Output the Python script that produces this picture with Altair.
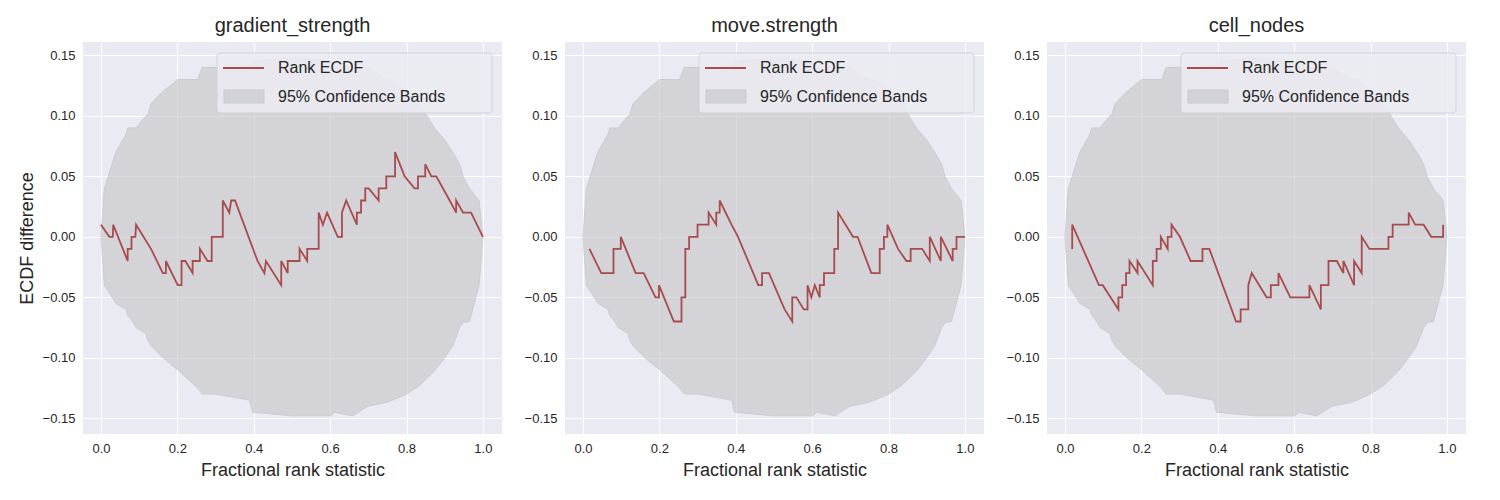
import altair as alt
import pandas as pd

titles = ["gradient_strength", "move.strength", "cell_nodes"]

# Rank ECDF difference traces (x, y)
p1_x = [0, .022, .031, .032, .07, .07, .08, .08, .09, .092, .131, .162, .170, .170, .201, .211, .211, .221, .24, .24, .259, .259, .279, .290, .290, .319, .319, .336, .341, .351,
        .41, .428, .432, .472, .472, .489, .489, .52, .52, .54, .54, .57, .57, .581, .592, .62, .631, .631, .642, .67, .67, .681, .681, .692, .692, .701, .727, .727, .747, .747, .77, .77,
        .795, .821, .83, .83, .849, .849, .865, .878, .913, .93, .93, .948, .969, 1.0]
p1_y = [.01, 0, 0, .01, -.02, -.01, -.01, 0, 0, .01, -.01, -.03, -.03, -.02, -.04, -.04, -.02, -.02, -.03, -.02, -.02, -.01, -.02, -.02, 0, 0, .03, .02, .03, .03,
        -.02, -.03, -.02, -.04, -.02, -.03, -.02, -.02, -.01, -.02, -.01, -.01, .02, .01, .02, 0, 0, .02, .03, .01, .02, .02, .03, .03, .04, .04, .03, .04, .04, .05, .05, .07,
        .05, .04, .04, .05, .05, .06, .05, .05, .03, .02, .03, .02, .02, 0]
p2_x = [.017, .048, .08, .08, .099, .099, .138, .159, .19, .199, .199, .238, .258, .258, .268, .268, .278, .278, .3, .3, .329, .329, .349, .349, .358, .358, .389, .406,
        .459, .469, .469, .487, .528, .548, .548, .559, .578, .588, .588, .598, .607, .62, .62, .631, .631, .658, .658, .668, .668, .707, .719, .755, .777, .777, .788, .788,
        .797, .797, .825, .847, .858, .858, .888, .908, .908, .937, .937, .968, .968, .978, .978, 1.0]
p2_y = [-.01, -.03, -.03, -.01, -.01, 0, -.03, -.03, -.05, -.05, -.04, -.07, -.07, -.05, -.05, -.01, -.01, 0, 0, .01, .01, .02, .01, .02, .02, .03, .01, 0,
        -.04, -.04, -.03, -.03, -.06, -.07, -.05, -.05, -.06, -.06, -.04, -.05, -.04, -.05, -.04, -.04, -.03, -.03, -.01, -.01, .02, 0, 0, -.03, -.03, -.01, -.01, 0,
        0, .01, -.01, -.02, -.02, -.01, -.01, -.02, 0, -.02, 0, -.02, -.01, -.01, 0, 0]
p3_x = [.019, .019, .089, .099, .14, .14, .15, .15, .16, .16, .169, .169, .19, .19, .23, .23, .24, .24, .251, .251, .269, .269, .279, .279, .301, .329, .36, .36, .378,
        .448, .46, .46, .48, .48, .489, .528, .539, .539, .559, .559, .59, .64, .64, .67, .67, .69, .69, .712, .729, .729, .757, .757, .777, .777, .797, .847, .847,
        .858, .858, .9, .9, .917, .939, .959, .99, .99]
p3_y = [-.01, .01, -.04, -.04, -.06, -.05, -.05, -.04, -.04, -.03, -.03, -.02, -.03, -.02, -.04, -.02, -.02, -.01, -.01, 0, -.01, 0, 0, .01, 0, -.02, -.02, -.01, -.01,
        -.07, -.07, -.06, -.06, -.04, -.03, -.05, -.05, -.04, -.04, -.03, -.05, -.05, -.04, -.06, -.04, -.04, -.02, -.02, -.03, -.02, -.04, -.02, -.03, 0, -.01, -.01, 0,
        0, .01, .01, .02, .01, .01, 0, 0, .01]

# 95% confidence band (shared by all panels)
band_x = [0, .009, .039, .066, .07, .083, .092, .118, .122, .131, .162, .201, .236, .253, .265, .301, .389, .397, .5, .603, .611, .659, .699, .747, .764, .8, .834, .873, .9, .921, .939, .948, .965, .99, 1]
band_hi = [0, .04, .07, .085, .09, .09, .09, .10, .10, .11, .12, .13, .13, .13, .14, .14, .14, .145, .148, .145, .14, .14, .14, .13, .13, .12, .11, .09, .08, .07, .06, .05, .04, .03, 0]
band_lo = [0, -.04, -.055, -.06, -.065, -.07, -.075, -.08, -.085, -.09, -.10, -.11, -.12, -.125, -.13, -.13, -.135, -.145, -.148, -.148, -.145, -.148, -.14, -.137, -.135, -.13, -.123, -.111, -.10, -.09, -.075, -.071, -.07, -.04, 0]

traces = [(p1_x, p1_y), (p2_x, p2_y), (p3_x, p3_y)]
LINE = "#a84b4d"
W, H = 419, 392
xs = alt.Scale(domain=[-0.047, 1.05], nice=False, zero=False)
ys = alt.Scale(domain=[-0.163, 0.161], nice=False, zero=False)
band_df = pd.DataFrame({"x": band_x, "lo": band_lo, "hi": band_hi})


def panel(i):
    tx, ty = traces[i]
    df = pd.DataFrame({"x": tx, "y": ty, "o": range(len(tx))})
    yaxis = alt.Axis(values=[-0.15, -0.1, -0.05, 0, 0.05, 0.1, 0.15], format=".2f",
                     title="ECDF difference" if i == 0 else None)
    xaxis = alt.Axis(values=[0, 0.2, 0.4, 0.6, 0.8, 1.0], format=".1f", title="Fractional rank statistic")
    band = alt.Chart(band_df).mark_area(color="#c4c4c8", opacity=0.6, stroke="#b8b8bc", strokeWidth=1).encode(
        x=alt.X("x:Q", scale=xs, axis=xaxis), y=alt.Y("lo:Q", scale=ys, axis=yaxis), y2="hi:Q")
    line = alt.Chart(df).mark_line(color=LINE, strokeWidth=1.8).encode(
        x=alt.X("x:Q", scale=xs), y=alt.Y("y:Q", scale=ys), order="o:Q")
    leg = pd.DataFrame({"a": [0]})
    base = alt.Chart(leg)
    box = base.mark_rect(fill="#ececf2", stroke="#d0d0d8", cornerRadius=3, opacity=0.85).encode(
        x=alt.value(134), x2=alt.value(409), y=alt.value(11), y2=alt.value(71))
    lsample = base.mark_rule(color=LINE, strokeWidth=1.8).encode(
        x=alt.value(140), x2=alt.value(181), y=alt.value(26))
    rsample = base.mark_rect(fill="#d2d3d8", stroke="#c8c8cc").encode(
        x=alt.value(141), x2=alt.value(181), y=alt.value(48), y2=alt.value(61))
    t1 = base.mark_text(align="left", baseline="middle", fontSize=16, color="#262626", font="Liberation Sans").encode(
        x=alt.value(195), y=alt.value(26), text=alt.value("Rank ECDF"))
    t2 = base.mark_text(align="left", baseline="middle", fontSize=16, color="#262626", font="Liberation Sans").encode(
        x=alt.value(195), y=alt.value(55), text=alt.value("95% Confidence Bands"))
    return alt.layer(band, line, box, lsample, rsample, t1, t2).properties(
        width=W, height=H,
        title=alt.TitleParams(titles[i], fontSize=20, font="Liberation Sans", fontWeight="normal", color="#262626", offset=6))


chart = alt.hconcat(*[panel(i) for i in range(3)], spacing=22).configure(
    background="white", padding={"left": 10, "top": 8, "right": 5, "bottom": 5}
).configure_view(
    fill="#eaeaf2", stroke=None
).configure_axis(
    grid=True, gridColor="white", gridWidth=1, domain=False, ticks=False,
    labelFont="Liberation Sans", labelFontSize=13, labelColor="#262626", labelPadding=8,
    titleFont="Liberation Sans", titleFontSize=18, titleFontWeight="normal", titleColor="#262626", titlePadding=6
)

chart.save("out.html", embed_options={"renderer": "svg", "actions": False})
